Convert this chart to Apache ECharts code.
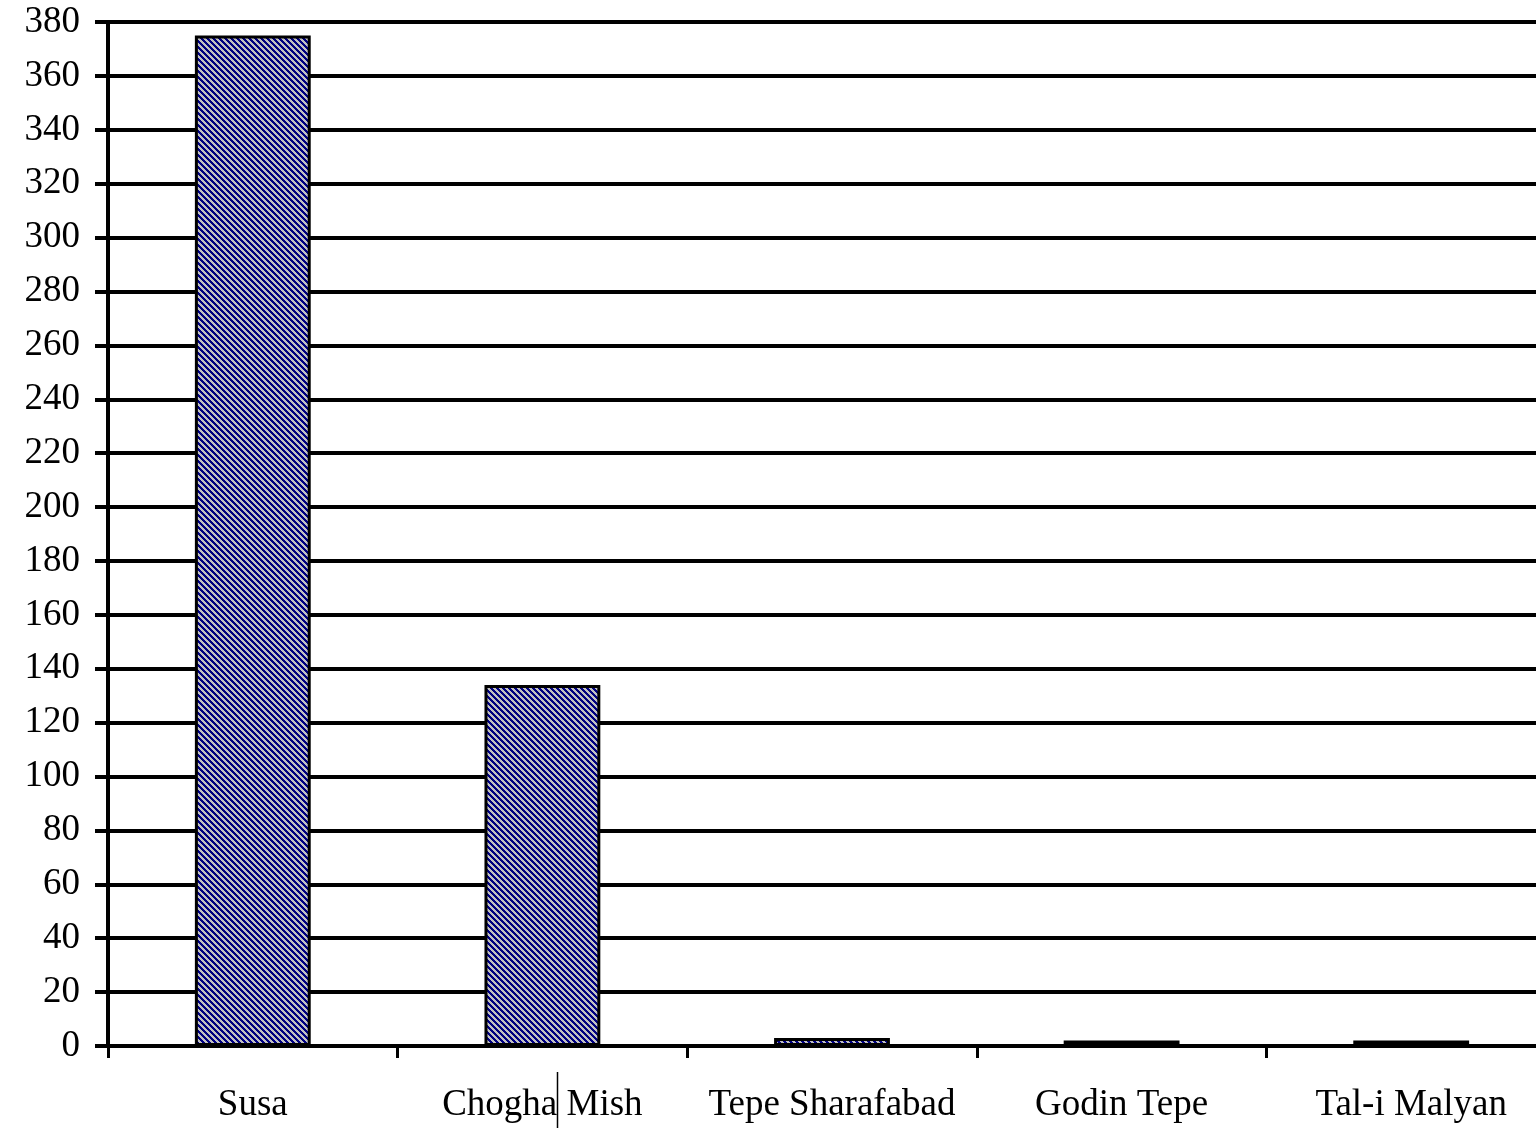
<!DOCTYPE html>
<html>
<head>
<meta charset="utf-8">
<script src="https://cdn.jsdelivr.net/npm/echarts@6/dist/echarts.min.js"></script>
<style>
  html, body { margin: 0; padding: 0; background: #fff; overflow: hidden; }
  #main { width: 1556px; height: 1132px; }
</style>
</head>
<body>
<div id="main"></div>
<script>
// sites and counts
var sites = ['Susa', 'Chogha Mish', 'Tepe Sharafabad', 'Godin Tepe', 'Tal-i Malyan'];
var counts = [375, 134, 3, 2, 2];
var yTicks = { min: 0, max: 380, step: 20 };

// diagonal hatch, navy on grey
function makeHatch() {
  var size = 6;
  var c = document.createElement('canvas');
  c.width = size;
  c.height = size;
  var ctx = c.getContext('2d');
  var img = ctx.createImageData(size, size);
  for (var y = 0; y < size; y++) {
    for (var x = 0; x < size; x++) {
      var k = (y * size + x) * 4;
      var navy = ((x - y + size * 2) % size) < 3;
      img.data[k] = navy ? 0 : 192;
      img.data[k + 1] = navy ? 0 : 192;
      img.data[k + 2] = navy ? 128 : 192;
      img.data[k + 3] = 255;
    }
  }
  ctx.putImageData(img, 0, 0);
  return c;
}

var chart = echarts.init(document.getElementById('main'), null, { renderer: 'canvas' });

var font = '"Liberation Serif", "Times New Roman", serif';

var option = {
  animation: false,
  backgroundColor: '#ffffff',
  grid: {
    left: 108,
    top: 22,
    bottom: 86,
    right: 0
  },
  xAxis: {
    type: 'category',
    data: sites,
    axisLine: { lineStyle: { color: '#000', width: 4 } },
    axisTick: { show: true, length: 12, lineStyle: { color: '#000', width: 3 } },
    axisLabel: {
      color: '#000',
      fontFamily: font,
      fontSize: 37,
      margin: 41,
      interval: 0
    },
    splitLine: { show: false }
  },
  yAxis: {
    type: 'value',
    min: yTicks.min,
    max: yTicks.max,
    interval: yTicks.step,
    axisLine: { show: true, lineStyle: { color: '#000', width: 4 } },
    axisTick: { show: true, length: 13, lineStyle: { color: '#000', width: 4 } },
    axisLabel: {
      color: '#000',
      fontFamily: font,
      fontSize: 37,
      margin: 28
    },
    splitLine: { show: true, lineStyle: { color: '#000', width: 4 } }
  },
  series: [{
    type: 'bar',
    data: counts,
    barWidth: '40%',
    itemStyle: {
      color: { image: makeHatch(), repeat: 'repeat' },
      borderColor: '#000',
      borderWidth: 3
    }
  }],
  graphic: [{
    // stray vertical stroke through the second label
    type: 'line',
    shape: { x1: 557.5, y1: 1072, x2: 557.5, y2: 1128 },
    style: { stroke: '#000', lineWidth: 1.5 }
  }]
};

chart.setOption(option);
</script>
</body>
</html>
